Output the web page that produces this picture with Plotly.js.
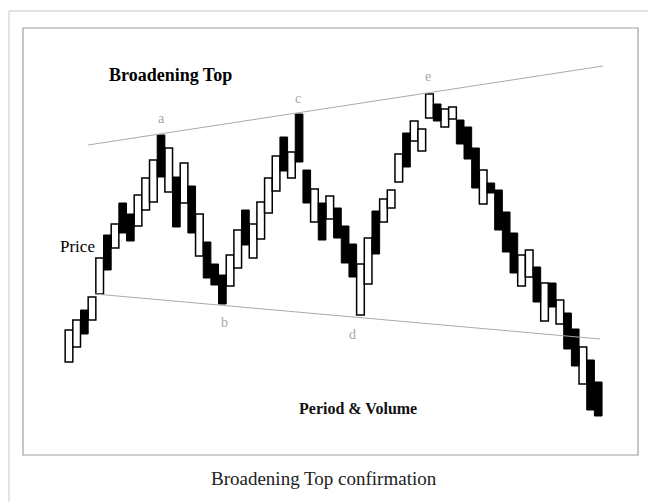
<!DOCTYPE html>
<html>
<head>
<meta charset="utf-8">
<script src="https://cdn.plot.ly/plotly-3.0.1.min.js"></script>
<style>html,body{margin:0;padding:0;background:#fff;}#chart{width:648px;height:502px;}</style>
</head>
<body>
<div id="chart"></div>
<script>
// Period index of each candle
var periods = [];
for (var k = 1; k <= 70; k++) periods.push(k);
// Open / close price of each candle (hollow = close above open, filled = close below open)
var openPrices = [98,113,150,140,166,225,212,257,246,234,250,258,325,268,283,257,274,204,218,196,
                  185,174,192,250,202,221,247,269,323,282,346,290,238,257,241,252,234,216,145,176,
                  249,238,252,278,327,319,309,342,356,333,341,340,333,312,256,277,270,248,227,174,
                  183,193,139,177,136,147,131,76,100,78];
var closePrices = [130,140,126,163,202,190,236,227,219,265,282,300,283,312,233,297,227,246,182,175,
                   156,205,230,215,236,258,282,304,289,308,298,257,271,220,264,222,197,183,196,222,
                   206,261,270,306,293,339,331,366,339,351,353,316,301,272,290,267,230,208,187,205,
                   210,158,177,153,160,111,94,113,50,44];
// Trend lines (period, price)
var upperTrendX = [3.48, 70.62];
var upperTrendY = [315, 394];
var lowerTrendX = [4.39, 70.23];
var lowerTrendY = [166, 121];
// Text
var chartTitle = "Broadening Top";
var priceLabel = "Price";
var periodLabel = "Period & Volume";
var caption = "Broadening Top confirmation";
var pointLabels = ["a", "b", "c", "d", "e"];
var pointLabelX = [13.1, 21.3, 30.9, 38.0, 47.8];
var pointLabelY = [342, 138, 362, 126, 384];

var upX = [], upBase = [], upLen = [], dnX = [], dnBase = [], dnLen = [];
for (var i = 0; i < periods.length; i++) {
  var o = openPrices[i], c = closePrices[i];
  if (c >= o) { upX.push(periods[i]); upBase.push(o); upLen.push(c - o); }
  else { dnX.push(periods[i]); dnBase.push(c); dnLen.push(o - c); }
}

var traces = [
  {type:'scatter', mode:'lines', x:upperTrendX, y:upperTrendY, line:{color:'#aaaaaa', width:1}, hoverinfo:'skip'},
  {type:'scatter', mode:'lines', x:lowerTrendX, y:lowerTrendY, line:{color:'#aaaaaa', width:1}, hoverinfo:'skip'},
  {type:'bar', x:upX, y:upLen, base:upBase, width:1, marker:{color:'#ffffff', line:{color:'#000000', width:1.5}}},
  {type:'bar', x:dnX, y:dnLen, base:dnBase, width:1, marker:{color:'#000000', line:{color:'#000000', width:1}}}
];

var W = 648, H = 502;
function px(x){return x / W;}
function py(y){return 1 - y / H;}

var annotations = [
  {text:'<b>' + chartTitle + '</b>', xref:'paper', yref:'paper', x:px(170), y:py(75), showarrow:false, xanchor:'center', yanchor:'middle', font:{family:'Liberation Serif', size:18, color:'#000'}},
  {text:priceLabel, xref:'paper', yref:'paper', x:px(77), y:py(246), showarrow:false, xanchor:'center', yanchor:'middle', font:{family:'Liberation Serif', size:17, color:'#000'}},
  {text:'<b>' + periodLabel + '</b>', xref:'paper', yref:'paper', x:px(358), y:py(408), showarrow:false, xanchor:'center', yanchor:'middle', font:{family:'Liberation Serif', size:16, color:'#111'}},
  {text:caption, xref:'paper', yref:'paper', x:px(324), y:py(478), showarrow:false, xanchor:'center', yanchor:'middle', font:{family:'Liberation Serif', size:19, color:'#202122'}}
];
for (var j = 0; j < pointLabels.length; j++) {
  annotations.push({text:pointLabels[j], xref:'x', yref:'y', x:pointLabelX[j], y:pointLabelY[j], showarrow:false, xanchor:'center', yanchor:'middle', font:{family:'Liberation Serif', size:14, color:'#a8a8a8'}});
}

var shapes = [
  {type:'line', xref:'paper', yref:'paper', x0:px(9), y0:py(11), x1:px(660), y1:py(11), line:{color:'#c8c8c8', width:1}},
  {type:'line', xref:'paper', yref:'paper', x0:px(9), y0:py(11), x1:px(9), y1:py(520), line:{color:'#c8c8c8', width:1}},
  {type:'rect', xref:'paper', yref:'paper', x0:px(23), y0:py(28), x1:px(638), y1:py(455), line:{color:'#a0a0a0', width:1.2}, layer:'below'}
];

var layout = {
  width: W, height: H,
  margin:{l:0, r:0, t:0, b:0, pad:0},
  paper_bgcolor:'#ffffff', plot_bgcolor:'rgba(0,0,0,0)',
  showlegend:false, barmode:'overlay', bargap:0,
  xaxis:{range:[-7.996, 76.49], visible:false, fixedrange:true},
  yaxis:{range:[-42, 460], visible:false, fixedrange:true},
  annotations: annotations,
  shapes: shapes
};
Plotly.newPlot('chart', traces, layout, {staticPlot:true, displayModeBar:false});
</script>
</body>
</html>
